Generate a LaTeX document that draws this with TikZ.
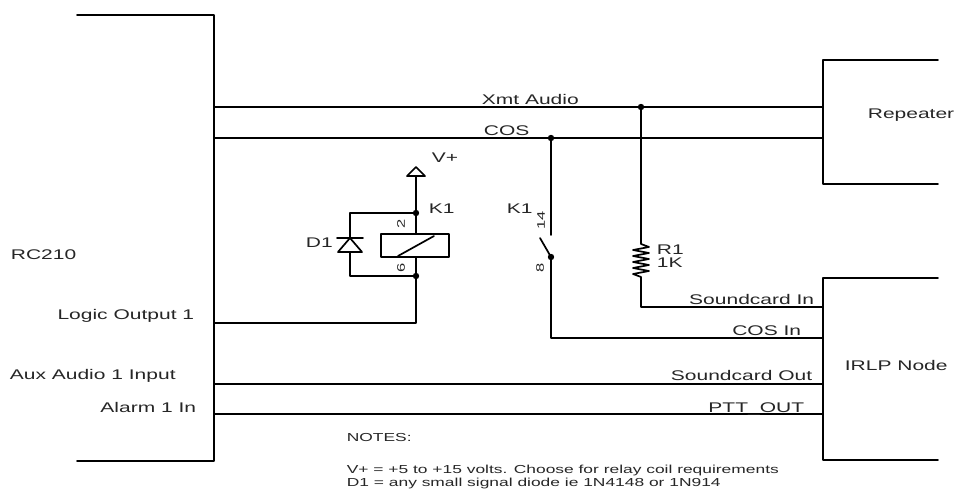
\documentclass[tikz,border=0pt]{standalone}
\usepackage{fontspec}
\setmainfont{Liberation Sans}[FakeStretch=1.5]
\begin{document}
\begin{tikzpicture}[x=1pt,y=-1pt,line join=round,line cap=round,line width=1.7pt,
  lbl/.style={inner sep=0pt,text=black!85,font=\fontsize{14}{16}\selectfont},
  pinno/.style={inner sep=0pt,text=black!85,font=\fontsize{11}{12}\selectfont,rotate=90},
  note/.style={inner sep=0pt,text=black!85,font=\fontsize{11.6}{12.5}\selectfont,anchor=base west}]
\useasboundingbox (0,0) rectangle (959,494);
% boxes
\draw (77,15) -- (214,15) -- (214,461) -- (77,461);
\draw (938,60) -- (823,60) -- (823,184) -- (938,184);
\draw (938,278) -- (823,278) -- (823,460) -- (938,460);
% pins and junctions
\coordinate (rxmt) at (214,107); \coordinate (pxmt) at (823,107);
\coordinate (rcos) at (214,138); \coordinate (pcos) at (823,138);
\coordinate (rlog) at (214,323); \coordinate (raux) at (214,384);
\coordinate (ralm) at (214,414);
\coordinate (isin) at (823,307); \coordinate (icos) at (823,338);
\coordinate (isout) at (823,384); \coordinate (iptt) at (823,414);
\coordinate (xj) at (641,107); \coordinate (cj) at (551,138);
\coordinate (kt) at (416,213); \coordinate (kb) at (416,276);
\coordinate (sw) at (551,257);
% wires
\draw (rxmt) -- (pxmt);
\draw (rcos) -- (pcos);
\draw (raux) -- (isout);
\draw (ralm) -- (iptt);
% relay coil, V+ and diode
\draw (407,176) -- (416,167) -- (425,176) -- cycle;
\draw (416,176) -- (kt) -- (416,234);
\draw (381,234) rectangle (449,257);
\draw (398,256) -- (434,236);
\draw (416,257) -- (kb) -- (416,323) -- (rlog);
\draw (kt) -- (350,213) -- (350,276) -- (kb);
\draw[fill=white] (350,238) -- (338,252) -- (362,252) -- cycle;
\draw (337,238) -- (363,238);
% relay contact
\draw (cj) -- (551,235);
\draw (540,238) -- (sw);
\draw (sw) -- (551,338) -- (icos);
% resistor
\draw (xj) -- (641,244) -- (649,247) \foreach \k in {1,...,4} {-- (633,244+6*\k) -- (649,247+6*\k)}
  -- (633,274) -- (641,277) -- (641,307) -- (isin);
\foreach \p in {xj,cj,kt,kb,sw} \fill (\p) circle (3.2);
% labels
\node[lbl,anchor=west] (rc) at (10,255) {RC210};
\node[lbl,anchor=base east] (lo) at (195,320) {Logic Output 1};
\node[lbl,anchor=base west] (aux) at (9,380) {Aux Audio 1 Input};
\node[lbl,anchor=base east] (alm) at (197,412) {Alarm 1 In};
\node[lbl,anchor=base west] (xmt) at (481,105) {Xmt Audio};
\node[lbl,anchor=base west] (cos) at (483,136) {COS};
\node[lbl,anchor=west] (rep) at (867,115) {Repeater};
\node[lbl,anchor=west] (irlp) at (844,365) {IRLP Node};
\node[lbl,anchor=base east] (sin) at (815,305) {Soundcard In};
\node[lbl,anchor=base east] (cin) at (802,336) {COS In};
\node[lbl,anchor=base east] (sout) at (813,381) {Soundcard Out};
\node[lbl,anchor=base east] (ptt) at (805,412) {PTT\_OUT};
\node[lbl,anchor=base west] (vp) at (431,163) {V+};
\node[lbl,anchor=base west] (k1a) at (428,214) {K1};
\node[lbl,anchor=base west] (k1b) at (506,214) {K1};
\node[lbl,anchor=base west] (d1) at (305,248) {D1};
\node[lbl,anchor=base west] (r1) at (656,255) {R1};
\node[lbl,anchor=base west] (rv) at (656,268) {1K};
\node[pinno] (p2) at (401,224) {2};
\node[pinno] (p6) at (401,268) {6};
\node[pinno] (p14) at (541,220) {14};
\node[pinno] (p8) at (540,268) {8};
\node[note] (nt) at (346,441) {NOTES:};
\node[note] (n1) at (346,473) {V+ = +5 to +15 volts. Choose for relay coil requirements};
\node[note] (n2) at (346,486) {D1 = any small signal diode ie 1N4148 or 1N914};
\end{tikzpicture}
\end{document}
